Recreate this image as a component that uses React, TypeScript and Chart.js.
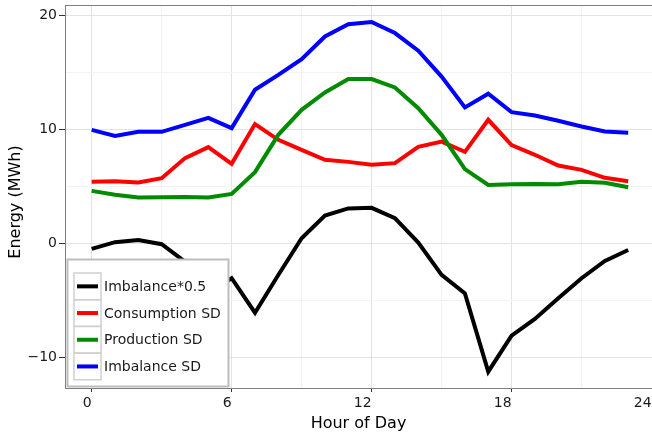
import React, { useEffect, useRef } from "react";
import { Chart, registerables } from "chart.js";

Chart.register(...registerables);

const hours = [0, 1, 2, 3, 4, 5, 6, 7, 8, 9, 10, 11, 12, 13, 14, 15, 16, 17, 18, 19, 20, 21, 22, 23];
const imbalanceHalf = [-0.5, 0.09, 0.29, -0.09, -1.61, -4.33, -3.07, -6.09, -2.78, 0.44, 2.42, 3.05, 3.1, 2.19, 0.05, -2.78, -4.39, -11.26, -8.1, -6.64, -4.82, -3.07, -1.55, -0.59];
const consumptionSD = [5.38, 5.44, 5.32, 5.7, 7.46, 8.42, 6.96, 10.44, 9.06, 8.18, 7.31, 7.13, 6.87, 7.02, 8.45, 8.91, 8.01, 10.82, 8.6, 7.75, 6.81, 6.43, 5.73, 5.44];
const productionSD = [4.59, 4.24, 4.0, 4.04, 4.06, 4.0, 4.32, 6.23, 9.5, 11.69, 13.21, 14.39, 14.39, 13.65, 11.84, 9.5, 6.49, 5.11, 5.17, 5.2, 5.17, 5.38, 5.29, 4.91];
const imbalanceSD = [9.94, 9.41, 9.76, 9.76, 10.38, 10.99, 10.09, 13.45, 14.76, 16.14, 18.12, 19.2, 19.39, 18.42, 16.87, 14.61, 11.9, 13.1, 11.49, 11.19, 10.73, 10.23, 9.79, 9.68];

const seriesNames = ["Imbalance*0.5", "Consumption SD", "Production SD", "Imbalance SD"];
const seriesColors = ["#000000", "#ff0000", "#008b00", "#0000ff"];
const xTicks = [0, 3, 6, 9, 12, 15, 18, 21, 24];
const xMajor = [0, 6, 12, 18, 24];
const yTicks = [-10, -5, 0, 5, 10, 15, 20];
const yMajor = [-10, 0, 10, 20];
const xTitle = "Hour of Day";
const yTitle = "Energy (MWh)";

const FONT = "'DejaVu Sans', sans-serif";

const legendPlugin = {
  id: "customLegend",
  afterDraw(chart: any) {
    const ctx = chart.ctx;
    const ca = chart.chartArea;
    ctx.save();
    // panel top border
    ctx.strokeStyle = "#7f7f7f";
    ctx.lineWidth = 1;
    ctx.beginPath();
    ctx.moveTo(ca.left, ca.top + 0.5);
    ctx.lineTo(ca.right, ca.top + 0.5);
    ctx.stroke();

    // y axis title
    ctx.save();
    ctx.translate(16, 202);
    ctx.rotate(-Math.PI / 2);
    ctx.font = "16px " + FONT;
    ctx.fillStyle = "#000000";
    ctx.textAlign = "center";
    ctx.textBaseline = "middle";
    ctx.fillText(yTitle, 0, 0);
    ctx.restore();

    // legend box
    const bx = 67.5, by = 259.5, bw = 161, bh = 127;
    ctx.fillStyle = "#ffffff";
    ctx.fillRect(bx, by, bw, bh);
    ctx.strokeStyle = "#bdbdbd";
    ctx.lineWidth = 2;
    ctx.strokeRect(bx, by, bw, bh);
    const keyX = 74, keyW = 27, keyH = 26.7, top0 = 273;
    ctx.font = "14px " + FONT;
    ctx.textBaseline = "middle";
    ctx.textAlign = "left";
    for (let i = 0; i < seriesNames.length; i++) {
      const ky = top0 + i * keyH;
      ctx.strokeStyle = "#d0d0d0";
      ctx.lineWidth = 1.5;
      ctx.strokeRect(keyX, ky, keyW, keyH);
      ctx.strokeStyle = seriesColors[i];
      ctx.lineWidth = 4;
      ctx.beginPath();
      ctx.moveTo(keyX + 3, ky + keyH / 2);
      ctx.lineTo(keyX + keyW - 3, ky + keyH / 2);
      ctx.stroke();
      ctx.fillStyle = "#1a1a1a";
      ctx.fillText(seriesNames[i], 104, ky + keyH / 2 + 1);
    }
    ctx.restore();
  },
};

export default function App() {
  const ref = useRef<HTMLCanvasElement | null>(null);

  useEffect(() => {
    document.body.style.margin = "0";
    const canvas = ref.current;
    if (!canvas) return;
    const all = [imbalanceHalf, consumptionSD, productionSD, imbalanceSD];
    const chart = new Chart(canvas, {
      type: "line",
      data: {
        datasets: all.map((arr, i) => ({
          label: seriesNames[i],
          data: hours.map((h, j) => ({ x: h, y: arr[j] })),
          borderColor: seriesColors[i],
          backgroundColor: seriesColors[i],
          borderWidth: 4,
          pointRadius: 0,
          tension: 0,
          fill: false,
          order: 3 - i,
        })),
      },
      options: {
        animation: false,
        responsive: false,
        devicePixelRatio: 1,
        layout: { padding: { top: 5, right: 0, left: 0, bottom: 0 } },
        plugins: { legend: { display: false }, tooltip: { enabled: false } },
        scales: {
          x: {
            type: "linear",
            min: -1.144,
            max: 24.02,
            afterBuildTicks: (scale: any) => {
              scale.ticks = xTicks.map((v) => ({ value: v }));
            },
            afterFit: (scale: any) => {
              scale.height = 45;
              scale.paddingLeft = 0;
              scale.paddingRight = 0;
            },
            ticks: {
              autoSkip: false,
              maxRotation: 0,
              align: "end",
              padding: 3,
              color: "#1a1a1a",
              font: { family: FONT, size: 14 },
              callback: (v: any) => (xMajor.includes(Number(v)) ? String(v) : ""),
            },
            grid: {
              color: (c: any) =>
                c.tick?.value === 24
                  ? "rgba(0,0,0,0)"
                  : xMajor.includes(c.tick?.value)
                  ? "#e3e3e3"
                  : "#f3f3f3",
              tickColor: (c: any) =>
                xMajor.includes(c.tick?.value) && c.tick?.value !== 24 ? "#333333" : "rgba(0,0,0,0)",
              tickLength: 4,
              lineWidth: 1,
            },
            border: { display: true, color: "#7f7f7f", width: 1 },
            title: {
              display: true,
              text: xTitle,
              color: "#000000",
              font: { family: FONT, size: 16 },
              padding: { top: 0, bottom: 0 },
            },
          },
          y: {
            type: "linear",
            min: -12.69,
            max: 20.88,
            afterBuildTicks: (scale: any) => {
              scale.ticks = yTicks.map((v) => ({ value: v }));
            },
            afterFit: (scale: any) => {
              scale.width = 65;
              scale.paddingTop = 0;
              scale.paddingBottom = 0;
            },
            ticks: {
              autoSkip: false,
              padding: 2,
              color: "#1a1a1a",
              font: { family: FONT, size: 14 },
              callback: (v: any) => {
                const n = Number(v);
                if (!yMajor.includes(n)) return "";
                return n < 0 ? "\u2212" + String(Math.abs(n)) : String(n);
              },
            },
            grid: {
              color: (c: any) => (yMajor.includes(c.tick?.value) ? "#e3e3e3" : "#f3f3f3"),
              tickColor: (c: any) => (yMajor.includes(c.tick?.value) ? "#333333" : "rgba(0,0,0,0)"),
              tickLength: 6,
              lineWidth: 1,
            },
            border: { display: true, color: "#7f7f7f", width: 1 },
            title: { display: false },
          },
        },
      },
      plugins: [legendPlugin],
    } as any);
    return () => chart.destroy();
  }, []);

  return (
    <div style={{ width: 652, height: 433, overflow: "hidden" }}>
      <canvas ref={ref} width={652} height={433} style={{ width: 652, height: 433, display: "block" }} />
    </div>
  );
}
